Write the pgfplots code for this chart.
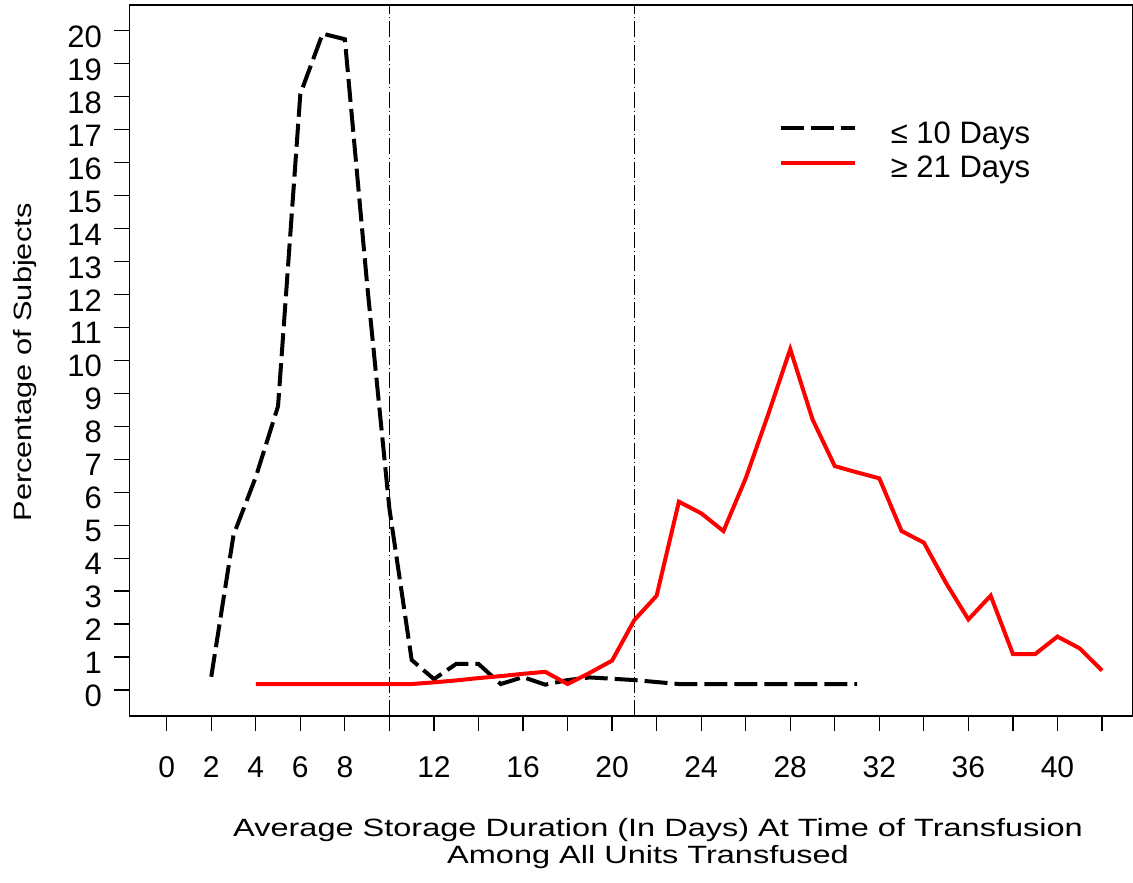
\documentclass[border=0pt]{standalone}
\usepackage{fontspec}
\setmainfont{Liberation Sans}
\usepackage{pgfplots}
\pgfplotsset{compat=1.18}
\begin{document}
\begin{tikzpicture}
\useasboundingbox (0,0) rectangle (566.5pt,441pt);
\begin{axis}[
  at={(64.65pt,83pt)}, anchor=south west,
  scale only axis, width=501.6pt, height=355.5pt,
  xmin=-1.68, xmax=43.37, ymin=-0.79, ymax=20.78,
  axis line style={line width=0.6pt},
  tick align=outside, major tick length=7.5pt,
  every tick/.style={black, line width=0.6pt},
  xtick pos=left, ytick pos=left,
  xtick={0,2,4,6,8,12,16,20,24,28,32,36,40},
  extra x ticks={10,14,18,22,26,30,34,38,42},
  extra x tick labels={},
  ytick={0,1,...,20},
  /pgf/number format/assume math mode=true,
  xticklabel style={font=\fontsize{15}{18}\selectfont, anchor=base, yshift=-23.25pt},
  yticklabel style={font=\fontsize{15.5}{18}\selectfont, anchor=base east, inner sep=0pt, xshift=-6pt, yshift=-8.3pt},
  legend style={draw=none, fill=none, inner sep=0pt, outer sep=0pt,
    at={(axis cs:27.49,17.25)}, anchor=north west,
    column sep=0pt, row sep=2.8pt,
    font=\fontsize{15.5}{18}\selectfont,
    cells={anchor=base west},
    nodes={inner sep=0pt, text height=11pt, text depth=3.5pt}},
  legend image code/.code={%
    \draw[#1] (0pt,7.7pt) -- (37pt,7.7pt);
    \path[draw=none] (0pt,7.7pt) -- (55pt,7.7pt);},
]
% reference lines at 10 and 21 days
\addplot[forget plot, black, line width=0.6pt, dash pattern=on 8pt off 1.6pt on 0.5pt off 1.6pt]
  coordinates {(10,-0.79) (10,20.78)};
\addplot[forget plot, black, line width=0.6pt, dash pattern=on 8pt off 1.6pt on 0.5pt off 1.6pt]
  coordinates {(21,-0.79) (21,20.78)};

% <= 10 days
\addplot[black, line width=2pt, dash pattern=on 11.5pt off 3.5pt] coordinates {
  (2,0.40) (3,4.70) (4,6.46) (5,8.61) (6,18.08) (7,19.91) (8,19.74)
  (9,12.3) (10,5.5) (11,0.91) (12,0.33) (13,0.79) (14,0.79) (15,0.18)
  (16,0.39) (17,0.16) (18,0.30) (19,0.38) (20,0.34) (21,0.30) (22,0.24)
  (23,0.18) (24,0.18) (25,0.18) (26,0.18) (27,0.18) (28,0.18) (29,0.18)
  (30,0.18) (31,0.18)
};
\addlegendentry{≤ 10 Days}

% >= 21 days
\addplot[red, line width=2pt] coordinates {
  (4,0.18) (5,0.18) (6,0.18) (7,0.18) (8,0.18) (9,0.18) (10,0.18) (11,0.18)
  (12,0.23) (13,0.29) (14,0.36) (15,0.42) (16,0.49) (17,0.55) (18,0.18)
  (19,0.52) (20,0.89) (21,2.12) (22,2.86) (23,5.71) (24,5.36) (25,4.82)
  (26,6.42) (27,8.34) (28,10.34) (29,8.21) (30,6.79) (31,6.60) (32,6.42)
  (33,4.82) (34,4.47) (35,3.24) (36,2.14) (37,2.86) (38,1.09) (39,1.09)
  (40,1.62) (41,1.26) (42,0.59)
};
\addlegendentry{≥ 21 Days}
\end{axis}

\node[anchor=base west, font=\fontsize{12.5}{15}\selectfont, xscale=1.3, inner sep=0pt]
  at (116.35pt,22.65pt) {Average Storage Duration (In Days) At Time of Transfusion};
\node[anchor=base west, font=\fontsize{12.5}{15}\selectfont, xscale=1.3, inner sep=0pt]
  at (223.35pt,9.35pt) {Among All Units Transfused};
\node[rotate=90, xscale=1.23, anchor=base west, font=\fontsize{12.5}{15}\selectfont, inner sep=0pt]
  at (15.85pt,180pt) {Percentage of Subjects};
\end{tikzpicture}
\end{document}
